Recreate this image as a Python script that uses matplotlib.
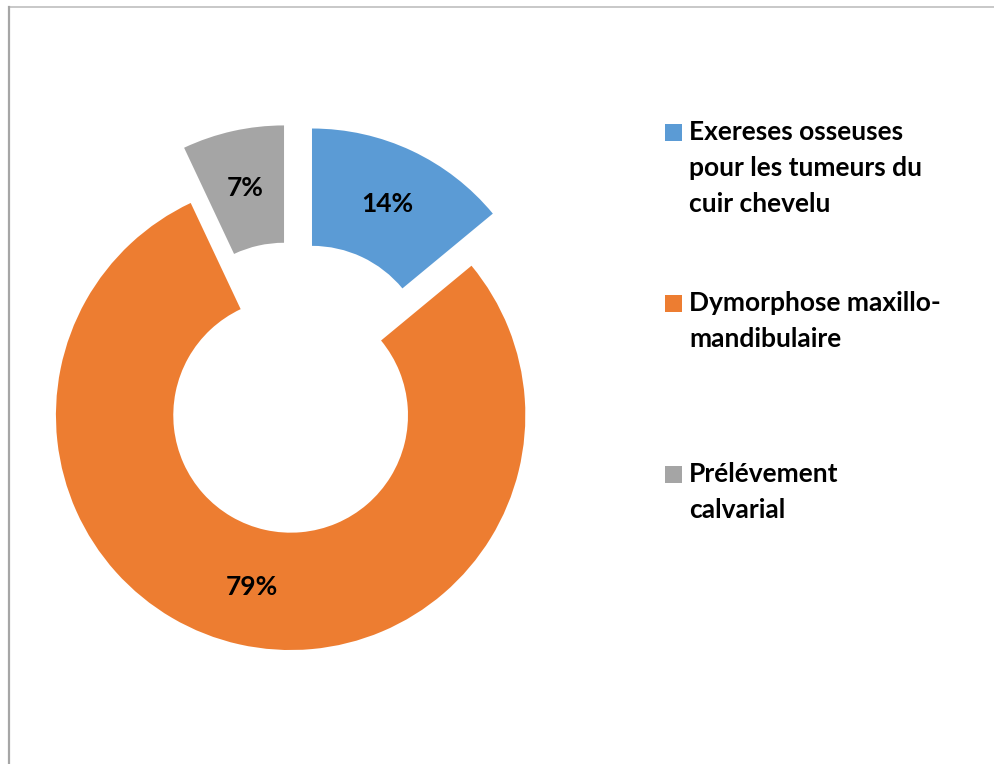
import matplotlib.pyplot as plt
from matplotlib.lines import Line2D
from matplotlib.patches import Rectangle

# data
categories = ["Exereses osseuses\npour les tumeurs du\ncuir chevelu",
              "Dymorphose maxillo-\nmandibulaire",
              "Prélévement\ncalvarial"]
percentages = [14, 79, 7]
colors = ["#5B9BD5", "#ED7D31", "#A5A5A5"]
explode = [0.185, 0.056, 0.185]

W, H = 995, 764
R_PX = 234.7           # outer radius in pixels
CX, CY = 293.5, 402.5  # pie centre (pixels from top-left)
LINE_PX = 36           # legend line pitch in pixels

plt.rcParams["font.family"] = ["Lato", "DejaVu Sans"]

fig = plt.figure(figsize=(W / 100, H / 100), dpi=100)
ax = fig.add_axes([0, 0, 1, 1])

wedges, texts, autotexts = ax.pie(
    percentages, colors=colors, explode=explode, startangle=90,
    counterclock=False, radius=1.0, pctdistance=0.75,
    autopct=lambda p: "%d%%" % round(p),
    wedgeprops=dict(width=0.5, linewidth=0),
    textprops=dict(fontsize=19, fontweight="bold", color="black"))

# 1 data unit = R_PX pixels
ax.set_xlim(-CX / R_PX, (W - CX) / R_PX)
ax.set_ylim(-(H - CY) / R_PX, CY / R_PX)
ax.set_aspect("auto")
ax.axis("off")

# legend drawn by hand so the marker sits on the first line
first_baselines = [140, 311, 482]
for label, color, yb in zip(categories, colors, first_baselines):
    n_lines = label.count("\n")
    fig.patches.append(Rectangle((665 / W, 1 - (yb - 8 + 8.5) / H), 17 / W, 17 / H,
                                 transform=fig.transFigure, facecolor=color,
                                 edgecolor="none"))
    # each line placed on its own baseline
    for i, line in enumerate(label.split("\n")):
        fig.text(689 / W, 1 - (yb + i * LINE_PX) / H, line, fontsize=19,
                 fontweight="bold", color="black", ha="left", va="baseline")

# chart border (top and left edges)
fig.add_artist(Line2D([9 / W, 1], [1 - 7 / H, 1 - 7 / H], transform=fig.transFigure,
                      color="#BFBFBF", linewidth=1.2))
fig.add_artist(Line2D([9 / W, 9 / W], [0, 1 - 7 / H], transform=fig.transFigure,
                      color="#A6A6A6", linewidth=1.6))

fig.savefig("out.png", dpi=100)
